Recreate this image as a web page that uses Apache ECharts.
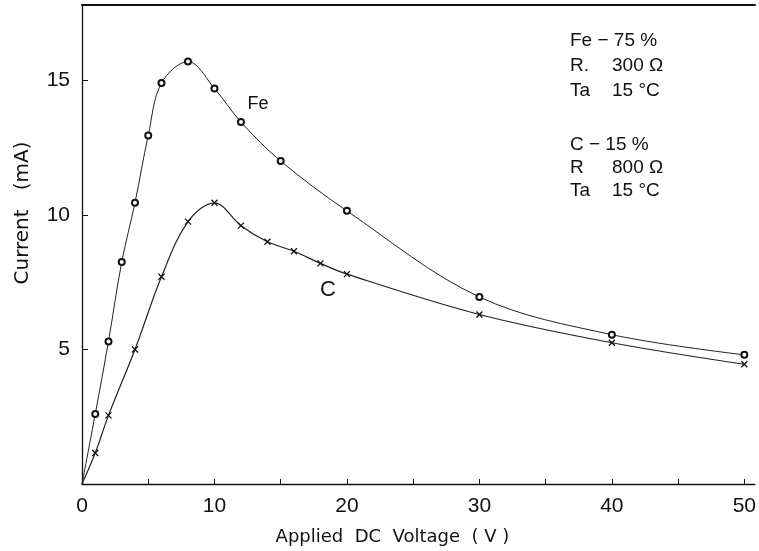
<!DOCTYPE html>
<html>
<head>
<meta charset="utf-8">
<script src="https://cdn.jsdelivr.net/npm/echarts@6/dist/echarts.min.js"></script>
<style>html,body{margin:0;padding:0;background:#fff}#c{width:759px;height:551px}</style>
</head>
<body>
<div id="c"></div>
<script>
// Fe curve (circles): [voltage V, current mA]
var feVoltage = [0, 1, 2, 3, 4, 5, 6, 8, 10, 12, 15, 20, 30, 40, 50];
var feCurrent = [0, 2.6, 5.3, 8.25, 10.45, 12.95, 14.9, 15.7, 14.7, 13.45, 12.0, 10.15, 6.95, 5.55, 4.8];
// C curve (crosses)
var cVoltage = [0, 1, 2, 4, 6, 8, 10, 12, 14, 16, 18, 20, 30, 40, 50];
var cCurrent = [0, 1.15, 2.55, 5.0, 7.7, 9.75, 10.45, 9.6, 9.0, 8.65, 8.2, 7.8, 6.3, 5.25, 4.45];
// axis ticks / labels
var xTicks = [0, 5, 10, 15, 20, 25, 30, 35, 40, 45, 50];
var xLabels = [0, 10, 20, 30, 40, 50];
var yTicks = [5, 10, 15];
var yLabels = [5, 10, 15];
var xMax = 50.8, yMax = 17.8;
var legendLines1 = [["Fe \u2212 75 %", ""], ["R.", "300 \u03a9"], ["Ta", "15 \u00b0C"]];
var legendLines2 = [["C \u2212 15 %", ""], ["R", "800 \u03a9"], ["Ta", "15 \u00b0C"]];

function pairs(xs, ys) {
  return xs.map(function (x, i) {
    var d = { value: [x, ys[i]] };
    if (x === 0 && ys[i] === 0) d.symbol = 'none';
    return d;
  });
}

var font = 'Liberation Sans';
var font2 = 'DejaVu Sans';
var chart = echarts.init(document.getElementById('c'));
var graphics = [];
function addLegend(lines, yc, dy) {
  lines.forEach(function (l, i) {
    graphics.push({ type: 'text', x: 570, y: yc + i * dy, style: { text: l[0], font: '19px "' + font + '"', fill: '#111', verticalAlign: 'middle' } });
    if (l[1]) graphics.push({ type: 'text', x: 612, y: yc + i * dy, style: { text: l[1], font: '19px "' + font + '"', fill: '#111', verticalAlign: 'middle' } });
  });
}
addLegend(legendLines1, 41, 25);
addLegend(legendLines2, 145, 23);
graphics.push({ type: 'text', x: 258, y: 104, style: { text: 'Fe', font: '18px "' + font + '"', fill: '#111', align: 'center', verticalAlign: 'middle' } });
graphics.push({ type: 'text', x: 328, y: 290, style: { text: 'C', font: '22px "' + font + '"', fill: '#111', align: 'center', verticalAlign: 'middle' } });

var crossPath = 'path://M0,0L10,10M10,0L0,10';

chart.setOption({
  animation: false,
  backgroundColor: '#fff',
  grid: { left: 82, top: 5, right: 4, bottom: 67, containLabel: false },
  xAxis: [{
    type: 'value', min: 0, max: xMax, position: 'bottom',
    name: 'Applied  DC  Voltage  ( V )', nameLocation: 'middle', nameGap: 44,
    nameTextStyle: { fontFamily: font2, fontSize: 18, color: '#111', padding: [0, 52, 0, 0] },
    axisLine: { show: true, onZero: false, lineStyle: { color: '#111', width: 1.3 } },
    axisTick: { show: true, inside: true, length: 5, customValues: xTicks, lineStyle: { color: '#111' } },
    axisLabel: { customValues: xLabels, fontFamily: font, fontSize: 21, color: '#111', margin: 12 },
    splitLine: { show: false }
  }, {
    type: 'value', min: 0, max: xMax, position: 'top',
    axisLine: { show: true, onZero: false, lineStyle: { color: '#111', width: 2 } },
    axisTick: { show: false }, axisLabel: { show: false }, splitLine: { show: false }
  }],
  yAxis: {
    type: 'value', min: 0, max: yMax,
    name: 'Current   (mA)', nameLocation: 'middle', nameGap: 49, nameRotate: 90,
    nameTextStyle: { fontFamily: font2, fontSize: 20, color: '#111', padding: [0, 0, 0, 63] },
    axisLine: { show: true, onZero: false, lineStyle: { color: '#111', width: 1.3 } },
    axisTick: { show: true, inside: true, length: 6, customValues: yTicks, lineStyle: { color: '#111' } },
    axisLabel: { customValues: yLabels, fontFamily: font, fontSize: 21, color: '#111', margin: 12 },
    splitLine: { show: false }
  },
  graphic: graphics,
  series: [{
    name: 'Fe', type: 'line', smooth: 0.35,
    data: pairs(feVoltage, feCurrent),
    symbol: 'emptyCircle', symbolSize: 6,
    lineStyle: { color: '#222', width: 1 },
    itemStyle: { color: '#111', borderColor: '#111', borderWidth: 1 }
  }, {
    name: 'C', type: 'line', smooth: 0.35,
    data: pairs(cVoltage, cCurrent),
    symbol: crossPath, symbolSize: 6,
    lineStyle: { color: '#222', width: 1.2 },
    itemStyle: { color: 'none', borderColor: '#111', borderWidth: 1.3 }
  }]
});
</script>
</body>
</html>
